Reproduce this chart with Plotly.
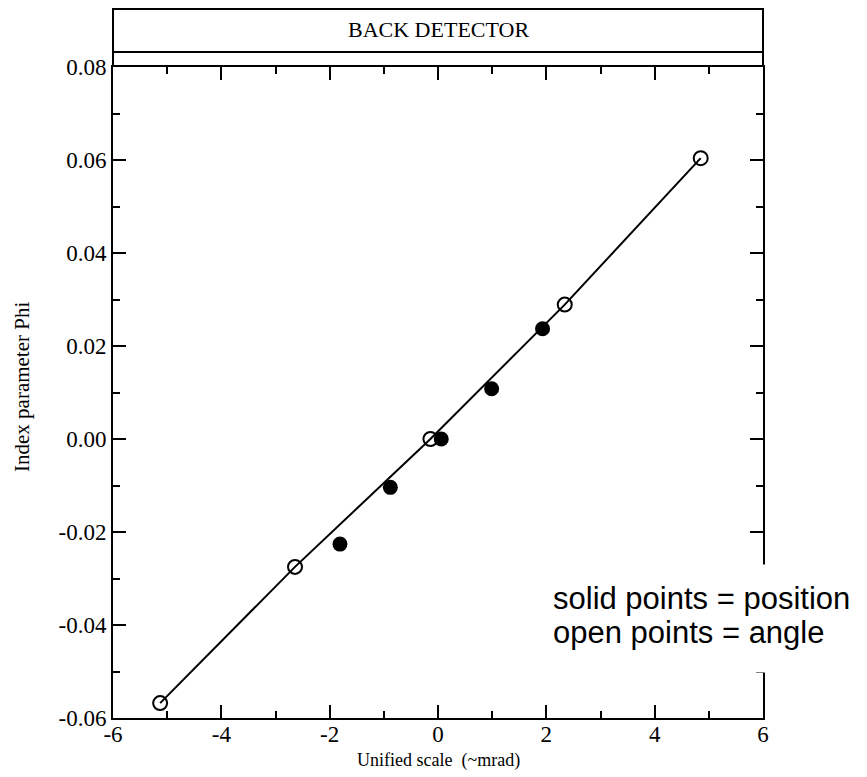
import plotly.graph_objects as go

# Data
solid_x = [-1.81, -0.88, 0.06, 0.99, 1.93]
solid_y = [-0.0226, -0.0104, 0.0000, 0.0108, 0.0237]
open_x = [-5.13, -2.64, -0.14, 2.34, 4.85]
open_y = [-0.0568, -0.0275, 0.0000, 0.0289, 0.0604]

x_tickvals = [-6, -4, -2, 0, 2, 4, 6]
x_ticktext = ["-6", "-4", "-2", "0", "2", "4", "6"]
y_tickvals = [-0.06, -0.04, -0.02, 0.0, 0.02, 0.04, 0.06, 0.08]
y_ticktext = ["-0.06", "-0.04", "-0.02", "0.00", "0.02", "0.04", "0.06", "0.08"]

serif = "Liberation Serif, Times New Roman, serif"
sans = "Liberation Sans, Arial, sans-serif"

# page body has an 8px margin; work in page coordinates and shift
OFF = 8
W, H = 867 - OFF, 777 - OFF
L, R, T, B = 113 - OFF, 763 - OFF, 67 - OFF, 718 - OFF
pw, ph = R - L, B - T


def px_x(p):  # page pixel -> paper x
    return (p - OFF - L) / pw


def px_y(p):  # page pixel -> paper y
    return (B - (p - OFF)) / ph


fig = go.Figure()
fig.add_trace(go.Scatter(x=open_x, y=open_y, mode="lines+markers",
                         line=dict(color="black", width=2),
                         marker=dict(symbol="circle-open", size=14, color="black",
                                     line=dict(width=2, color="black")),
                         showlegend=False))
fig.add_trace(go.Scatter(x=solid_x, y=solid_y, mode="markers",
                         marker=dict(symbol="circle", size=15, color="black"),
                         showlegend=False))

axis_common = dict(showgrid=False, zeroline=False, showline=True, linecolor="black",
                   linewidth=2, mirror="allticks", ticks="inside", ticklen=13,
                   tickwidth=2, tickcolor="black", automargin=False,
                   tickfont=dict(family=serif, size=23, color="black"))

fig.update_xaxes(range=[-6, 6], tickvals=x_tickvals, ticktext=x_ticktext,
                 ticklabelstandoff=-6,
                 minor=dict(dtick=1, ticks="inside", ticklen=7, tickwidth=2, tickcolor="black"),
                 **axis_common)
fig.update_yaxes(range=[-0.06, 0.08], tickvals=y_tickvals, ticktext=y_ticktext,
                 minor=dict(dtick=0.01, ticks="inside", ticklen=7, tickwidth=2, tickcolor="black"),
                 **axis_common)

# Axis titles
fig.add_annotation(xref="paper", yref="paper", x=0.5, y=px_y(760),
                   text="Unified scale\u00a0\u00a0(~mrad)", showarrow=False,
                   xanchor="center", yanchor="middle",
                   font=dict(family=serif, size=18, color="black"))
fig.add_annotation(xref="paper", yref="paper", x=px_x(22), y=px_y(387),
                   text="Index parameter Phi", showarrow=False, textangle=-90,
                   xanchor="center", yanchor="middle",
                   font=dict(family=serif, size=21, color="black"))

# Title box above the plot
top = px_y(9)
mid = px_y(52)
fig.add_shape(type="rect", xref="paper", yref="paper", x0=0, x1=1,
              y0=mid, y1=top, line=dict(color="black", width=2))
for xv in (0, 1):
    fig.add_shape(type="line", xref="paper", yref="paper", x0=xv, x1=xv,
                  y0=1, y1=mid, line=dict(color="black", width=2))
fig.add_annotation(xref="paper", yref="paper", x=0.5, y=px_y(30),
                   text="BACK DETECTOR", showarrow=False, yanchor="middle",
                   font=dict(family=serif, size=22, color="black"))

# Legend note with white background box
fig.add_annotation(xref="paper", yref="paper", x=px_x(545), y=px_y(618.5),
                   xanchor="left", yanchor="middle", text="\u00a0",
                   width=330, height=107, showarrow=False, bgcolor="white", borderpad=0)
fig.add_annotation(xref="paper", yref="paper", x=px_x(552), y=px_y(598),
                   xanchor="left", yanchor="middle", text="solid points = position",
                   showarrow=False, borderpad=0,
                   font=dict(family=sans, size=31, color="black"))
fig.add_annotation(xref="paper", yref="paper", x=px_x(552), y=px_y(632),
                   xanchor="left", yanchor="middle", text="open points = angle",
                   showarrow=False, borderpad=0,
                   font=dict(family=sans, size=31, color="black"))

fig.update_layout(width=W, height=H, paper_bgcolor="white", plot_bgcolor="white",
                  margin=dict(l=L, r=W - R, t=T, b=H - B))

fig.write_html("out.html")
